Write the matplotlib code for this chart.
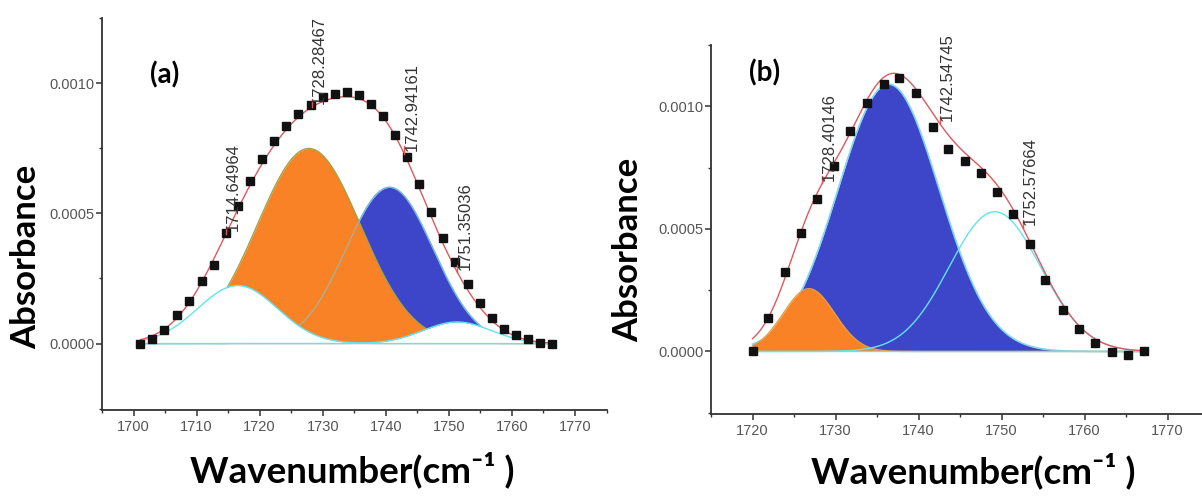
from __future__ import annotations

import matplotlib

matplotlib.use("Agg")
import matplotlib.pyplot as plt
import numpy as np
from matplotlib.ticker import FormatStrFormatter, MultipleLocator

# panel (a): measured points
wn_a = [1701.1, 1703.0, 1704.9, 1706.9, 1708.8, 1710.8, 1712.7, 1714.7, 1716.5,
        1718.4, 1720.3, 1722.2, 1724.2, 1726.1, 1728.1, 1730.0, 1731.9, 1733.8,
        1735.7, 1737.7, 1739.6, 1741.5, 1743.4, 1745.3, 1747.2, 1749.1, 1751.0,
        1753.0, 1754.9, 1756.8, 1758.7, 1760.6, 1762.6, 1764.4, 1766.4]
abs_a = [0.0, 0.000017, 0.000054, 0.000108, 0.000165, 0.000242, 0.000300, 0.000425,
         0.000529, 0.000625, 0.000710, 0.000778, 0.000834, 0.000881, 0.000917,
         0.000945, 0.000960, 0.000966, 0.000953, 0.000920, 0.000874, 0.000800,
         0.000716, 0.000612, 0.000506, 0.000404, 0.000313, 0.000228, 0.000157,
         0.000100, 0.000057, 0.000032, 0.000019, 0.000002, 0.0]
# fitted gaussian components (a): white, orange, blue, white
peak_center_a = [1716.5, 1727.8, 1740.6, 1751.3]
peak_height_a = [0.000223, 0.000749, 0.000600, 0.000083]
peak_sigma_a = [6.3, 8.2, 6.9, 5.4]
label_pos_a = [1714.64964, 1728.28467, 1742.94161, 1751.35036]

# panel (b)
wn_b = [1720.0, 1721.9, 1723.9, 1725.9, 1727.8, 1729.8, 1731.8, 1733.8, 1735.8,
        1737.7, 1739.7, 1741.7, 1743.6, 1745.6, 1747.5, 1749.5, 1751.4, 1753.4,
        1755.3, 1757.4, 1759.3, 1761.3, 1763.3, 1765.3, 1767.2]
abs_b = [0.0, 0.000136, 0.000323, 0.000484, 0.000620, 0.000756, 0.000900, 0.001015,
         0.001090, 0.001114, 0.001053, 0.000916, 0.000824, 0.000777, 0.000726,
         0.000649, 0.000559, 0.000440, 0.000290, 0.000170, 0.000091, 0.000034,
         -0.000004, -0.000014, 0.0]
# components (b): orange, blue, cyan outline
peak_center_b = [1726.8, 1736.4, 1749.2]
peak_height_b = [0.000256, 0.00109, 0.00057]
peak_sigma_b = [3.1, 6.1, 5.5]
label_pos_b = [1728.40146, 1742.54745, 1752.57664]

ORANGE = "#f98226"
BLUE = "#3d45c8"
CYAN = "#5fe6f0"
RED = "#e0585c"
LABEL_FONT = ["Lato", "DejaVu Sans"]

plt.rcParams["font.family"] = ["Liberation Sans", "DejaVu Sans"]


def gauss(x, c, h, s):
    return h * np.exp(-((x - c) ** 2) / (2 * s ** 2))


def style_axes(ax, xlim, xticks):
    ax.set_xlim(*xlim)
    ax.set_ylim(-0.000255, 0.00125)
    for side in ("top", "right"):
        ax.spines[side].set_visible(False)
    for side in ("left", "bottom"):
        ax.spines[side].set_color("#333333")
        ax.spines[side].set_linewidth(1.3)
    ax.set_xticks(xticks)
    ax.xaxis.set_minor_locator(MultipleLocator(5))
    ax.set_yticks([0.0, 0.0005, 0.0010])
    ax.yaxis.set_minor_locator(MultipleLocator(0.00025))
    ax.yaxis.set_major_formatter(FormatStrFormatter("%.4f"))
    ax.tick_params(which="major", direction="out", length=4.5, width=1.1,
                   color="#333333", labelsize=10.5, labelcolor="#555555")
    ax.tick_params(which="minor", direction="out", length=2.5, width=1.0, color="#333333")
    ax.tick_params(axis="x", pad=3)
    ax.tick_params(axis="y", pad=1)
    ax.set_xlabel("Wavenumber(cm\u207b\u00b9 )", family=LABEL_FONT,
                  fontweight="bold", fontsize=26.5)
    ax.set_ylabel("Absorbance", family=LABEL_FONT, fontweight="bold", fontsize=25)


def add_peak_labels(ax, xs, fit_fn):
    for xp in xs:
        y0 = fit_fn(xp)
        ax.plot([xp, xp], [y0, y0 + 0.00003], color=RED, lw=1.0, zorder=7)
        ax.text(xp, y0 + 0.00001, f"{xp:.5f}", rotation=90, ha="left", va="bottom",
                fontsize=12, color="#333333", zorder=8)


def panel_a(ax):
    x = np.linspace(wn_a[0], wn_a[-1], 400)
    comps = [gauss(x, c, h, s) for c, h, s in zip(peak_center_a, peak_height_a, peak_sigma_a)]
    fit = np.sum(comps, axis=0)

    ax.fill_between(x, 0, comps[2], color=BLUE, lw=0, zorder=1)
    ax.plot(x, comps[2], color="#5d9ff0", lw=1.0, zorder=1.5)
    ax.fill_between(x, 0, comps[1], color=ORANGE, lw=0, zorder=2)
    ax.plot(x, comps[1], color="#a3a244", lw=1.0, zorder=2.5)
    ax.plot(x, comps[2], color="#7fc8d0", lw=0.9, alpha=0.7, zorder=3)
    for i in (0, 3):
        ax.fill_between(x, 0, comps[i], color="white", lw=0, zorder=4)
        ax.plot(x, comps[i], color=CYAN, lw=1.0, zorder=4.5)

    ax.plot(x, fit, color=RED, lw=1.0, zorder=5)
    ax.plot(wn_a, abs_a, "s", color="#111111", ms=6, zorder=6)

    def fit_fn(v):
        return sum(gauss(v, c, h, s) for c, h, s in zip(peak_center_a, peak_height_a, peak_sigma_a))

    add_peak_labels(ax, label_pos_a, fit_fn)
    style_axes(ax, (1695, 1775), range(1700, 1771, 10))
    ax.text(1705.0, 0.00103, "(a)", family=LABEL_FONT, fontweight="bold", fontsize=20,
            ha="center", va="center")
    ax.xaxis.set_label_coords(0.496, -0.107)
    ax.yaxis.set_label_coords(-0.119, 0.39)


def panel_b(ax):
    x = np.linspace(wn_b[0], wn_b[-1], 400)
    comps = [gauss(x, c, h, s) for c, h, s in zip(peak_center_b, peak_height_b, peak_sigma_b)]
    fit = np.sum(comps, axis=0)

    ax.fill_between(x, 0, comps[1], color=BLUE, lw=0, zorder=1)
    ax.plot(x, comps[1], color="#7fd6f2", lw=1.2, zorder=1.5)
    ax.fill_between(x, 0, comps[0], color=ORANGE, lw=0, zorder=2)
    ax.plot(x, comps[0], color="#e8a040", lw=1.0, zorder=2.5)
    ax.plot(x, comps[2], color=CYAN, lw=1.0, zorder=3)
    ax.plot(x, np.zeros_like(x), color=CYAN, lw=1.0, zorder=3)

    ax.plot(x, fit, color=RED, lw=1.0, zorder=5)
    ax.plot(wn_b, abs_b, "s", color="#111111", ms=6, zorder=6)

    def fit_fn(v):
        return sum(gauss(v, c, h, s) for c, h, s in zip(peak_center_b, peak_height_b, peak_sigma_b))

    add_peak_labels(ax, label_pos_b, fit_fn)
    style_axes(ax, (1715, 1775), range(1720, 1771, 10))
    ax.text(1721.4, 0.001135, "(b)", family=LABEL_FONT, fontweight="bold", fontsize=20,
            ha="center", va="center")
    ax.xaxis.set_label_coords(0.526, -0.103)
    ax.yaxis.set_label_coords(-0.135, 0.444)


def main() -> None:
    fig = plt.figure(figsize=(12.02, 4.97), dpi=100)
    ax_a = fig.add_axes([102 / 1202, 1 - 410 / 497, 504.5 / 1202, 392 / 497])
    ax_b = fig.add_axes([711 / 1202, 1 - 414 / 497, 498 / 1202, 369 / 497])
    panel_a(ax_a)
    panel_b(ax_b)
    fig.savefig("out.png", dpi=100)
    plt.close(fig)


if __name__ == "__main__":
    main()
